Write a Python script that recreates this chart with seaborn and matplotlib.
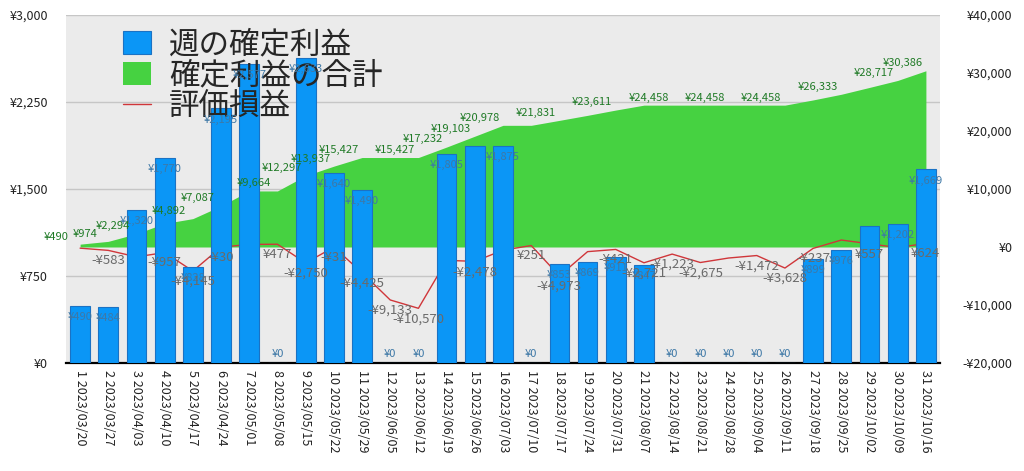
import numpy as np
import matplotlib
matplotlib.use("Agg")
import matplotlib.pyplot as plt
import seaborn as sns
from matplotlib.ticker import FuncFormatter

# ---------------- data ----------------
dates = ["2023/03/20", "2023/03/27", "2023/04/03", "2023/04/10", "2023/04/17",
         "2023/04/24", "2023/05/01", "2023/05/08", "2023/05/15", "2023/05/22",
         "2023/05/29", "2023/06/05", "2023/06/12", "2023/06/19", "2023/06/26",
         "2023/07/03", "2023/07/10", "2023/07/17", "2023/07/24", "2023/07/31",
         "2023/08/07", "2023/08/14", "2023/08/21", "2023/08/28", "2023/09/04",
         "2023/09/11", "2023/09/18", "2023/09/25", "2023/10/02", "2023/10/09",
         "2023/10/16"]
weekly_profit = [490, 484, 1320, 1770, 828, 2195, 2577, 0, 2633, 1640, 1490, 0, 0,
                 1805, 1871, 1875, 0, 853, 869, 911, 847, 0, 0, 0, 0, 0, 899, 976,
                 1182, 1202, 1669]
cumulative_profit = [490, 974, 2294, 4064, 4892, 7087, 9664, 9664, 12297, 13937,
                     15427, 15427, 15427, 17232, 19103, 20978, 20978, 21831, 22700,
                     23611, 24458, 24458, 24458, 24458, 24458, 24458, 25357, 26333,
                     27515, 28717, 30386]
unrealized = [-200, -583, -1700, -957, -4145, -30, 450, 477, -2750, -31, -4425,
              -9133, -10570, -2300, -2478, -550, 251, -4973, -800, -421, -2721,
              -1223, -2675, -1900, -1472, -3628, -237, 1200, 557, -100, 624]
series_names = ["週の確定利益", "確定利益の合計", "評価損益"]

# which points carry a visible value label in the reference
bar_label_idx = [i for i in range(31) if i not in (14, 28)]
cum_label_idx = [0, 1, 2, 4, 5, 7, 8, 9, 10, 12, 13, 14, 15, 17, 19, 21, 23, 25, 27, 29, 30]
unreal_label_idx = [1, 3, 4, 5, 7, 8, 9, 10, 11, 12, 14, 16, 17, 19, 20, 21, 22, 24,
                    25, 26, 28, 30]

# ---------------- style ----------------
sns.set_theme(style="white")
plt.rcParams['font.family'] = ['Noto Sans CJK JP', 'DejaVu Sans']

BLUE = "#0b96f6"
BLUE_EDGE = "#1b72c4"
GREEN = "#46d241"
RED = "#d0363a"
BAR_TXT = "#3e78a6"
CUM_TXT = "#1f7a26"
UNR_TXT = "#6a6a6a"


def yen(v, _=None):
    v = int(round(v))
    return f"-¥{abs(v):,}" if v < 0 else f"¥{v:,}"


fig = plt.figure(figsize=(10.24, 4.71), dpi=100)
ax = fig.add_axes([66 / 1024, 1 - 363 / 471, (940 - 66) / 1024, (363 - 15) / 471])
ax2 = ax.twinx()

idx = np.arange(len(dates))

# primary axes (drawn first): cumulative area + unrealized line, right-hand scale
ax.set_facecolor("#ebebeb")
ax.set_ylim(-20000, 40000)
for g in np.linspace(-20000, 40000, 5):
    ax.axhline(g, color="#c6c6c6", lw=1.0, zorder=0.5)
fill = ax.fill_between(idx, 0, cumulative_profit, color=GREEN, lw=0, zorder=1)
sns.lineplot(x=idx, y=unrealized, ax=ax, color=RED, lw=1.0, zorder=2)
line = ax.get_lines()[-1]
if ax.get_legend() is not None:
    ax.get_legend().remove()

# twin axes (drawn on top): weekly bars, left-hand scale
ax2.patch.set_visible(False)
sns.barplot(x=idx, y=weekly_profit, ax=ax2, color=BLUE, edgecolor=BLUE_EDGE,
            linewidth=0.8, width=0.7, saturation=1, native_scale=True, zorder=3)
ax2.set_ylim(0, 3000)
bars = ax2.containers[0]

# axes cosmetics
ax.set_xlim(-0.5, len(dates) - 0.5)
ax.set_xticks(idx)
ax.set_xticklabels([f"{i + 1} {d}" for i, d in enumerate(dates)], rotation=-90,
                   fontsize=9, color="#222222")
ax.tick_params(axis="x", length=0, pad=5)
ax.set_xlabel("")
ax.set_ylabel("")
ax2.set_ylabel("")
ax2.set_xlabel("")

ax.yaxis.tick_right()
ax.set_yticks(np.linspace(-20000, 40000, 7))
ax.yaxis.set_major_formatter(FuncFormatter(yen))
ax.tick_params(axis="y", length=0, pad=52, labelsize=9, colors="#222222")
for t in ax.yaxis.get_major_ticks():
    t.label2.set_horizontalalignment("right")

ax2.yaxis.tick_left()
ax2.set_yticks(np.linspace(0, 3000, 5))
ax2.yaxis.set_major_formatter(FuncFormatter(yen))
ax2.tick_params(axis="y", length=0, pad=13, labelsize=9, colors="#222222")

for a in (ax, ax2):
    for s in ("top", "left", "right"):
        a.spines[s].set_visible(False)
ax2.spines["bottom"].set_visible(False)
ax.spines["bottom"].set_color("black")
ax.spines["bottom"].set_linewidth(1.6)
ax.spines["bottom"].set_zorder(5)
ax.grid(False)
ax2.grid(False)

# value labels (all on the top axes so they sit above the bars)
for i in bar_label_idx:
    v = weekly_profit[i]
    dy = -8 if v > 0 else 6.5
    ax2.annotate(yen(v), xy=(i, v), xytext=(0, dy), textcoords="offset points",
                 ha="center", va="center", fontsize=8, color=BAR_TXT, zorder=6)
for i in cum_label_idx:
    v = cumulative_profit[i]
    ax2.annotate(yen(v), xy=(i, v), xycoords=ax.transData, xytext=(-17, 5.5),
                 textcoords="offset points", ha="center", va="center", fontsize=8,
                 color=CUM_TXT, zorder=6, annotation_clip=False)
for i in unreal_label_idx:
    v = unrealized[i]
    ax2.annotate(yen(v), xy=(i, v), xycoords=ax.transData, xytext=(0, -7.5),
                 textcoords="offset points", ha="center", va="center", fontsize=9.5,
                 color=UNR_TXT, zorder=6, annotation_clip=False)

# legend
ax2.legend([bars.patches[0], fill, line], series_names, loc="upper left",
           bbox_to_anchor=(123 / 1024, 1 - 29 / 471), bbox_transform=fig.transFigure,
           frameon=False, fontsize=22, handlelength=0.9, handleheight=0.8,
           handletextpad=0.6, labelspacing=0.0, borderpad=0, borderaxespad=0)

fig.savefig("out.png", dpi=100)
